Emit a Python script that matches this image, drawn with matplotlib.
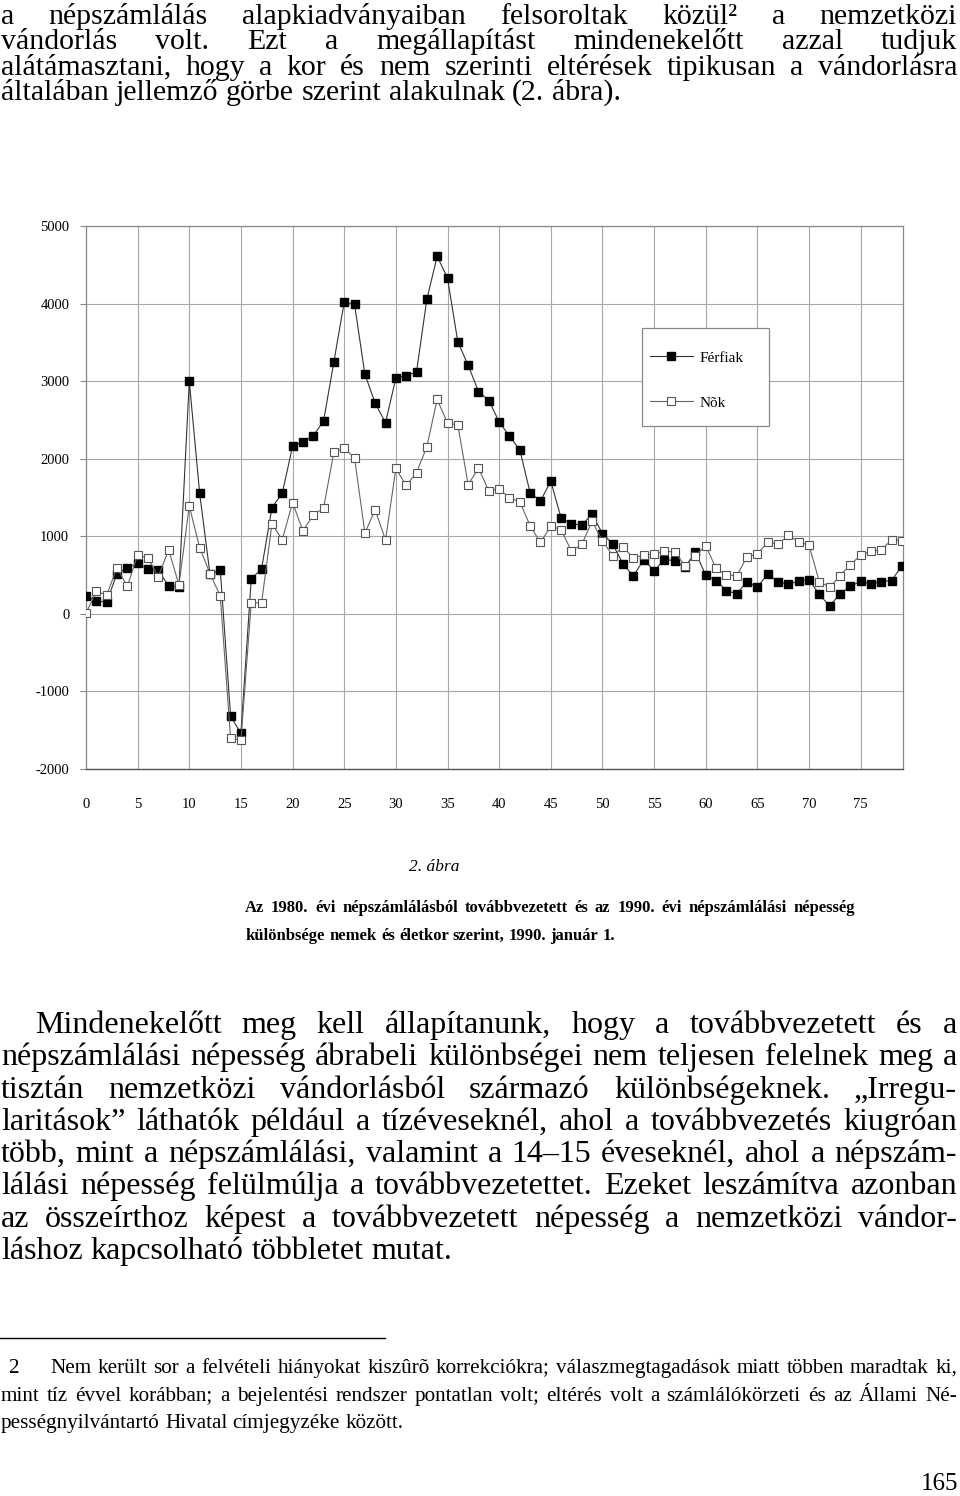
import matplotlib
matplotlib.use("Agg")
import matplotlib.pyplot as plt
from matplotlib.patches import Rectangle
from matplotlib.backends.backend_agg import get_hinting_flag
from matplotlib.font_manager import FontProperties

plt.rcParams['font.family'] = ['Liberation Serif', 'DejaVu Serif']
plt.rcParams['axes.unicode_minus'] = False

W, H = 960, 1496

# --- chart data: difference by age (0..79) ---
ages = list(range(80))
ferfiak = [230, 165, 150, 520, 595, 650, 575, 560, 360, 350,
           3000, 1560, 515, 565, -1320, -1540, 450, 580, 1370, 1555,
           2160, 2220, 2295, 2485, 3250, 4020, 3990, 3090, 2715, 2465,
           3040, 3070, 3120, 4055, 4610, 4330, 3505, 3205, 2865, 2750,
           2475, 2290, 2115, 1560, 1455, 1710, 1235, 1160, 1145, 1285,
           1035, 900, 640, 490, 700, 555, 700, 685, 605, 795,
           500, 430, 300, 260, 415, 345, 515, 410, 385, 420,
           440, 250, 100, 260, 355, 420, 385, 415, 430, 620]
nok = [5, 295, 240, 595, 355, 760, 720, 480, 825, 375,
       1390, 855, 520, 230, -1605, -1630, 145, 140, 1160, 955,
       1435, 1070, 1270, 1365, 2085, 2140, 2010, 1045, 1340, 950,
       1875, 1655, 1820, 2155, 2765, 2460, 2435, 1665, 1880, 1585,
       1610, 1495, 1445, 1135, 920, 1130, 1085, 810, 895, 1195,
       940, 750, 860, 720, 760, 770, 810, 795, 620, 750,
       880, 585, 505, 490, 735, 770, 925, 895, 1015, 930,
       885, 415, 345, 490, 635, 755, 810, 825, 955, 945]
series_labels = ["Férfiak", "Nõk"]
xticks = list(range(0, 80, 5))
yticks = list(range(-2000, 5001, 1000))

# --- page text ---
top_lines = [
    "a népszámlálás alapkiadványaiban felsoroltak közül² a nemzetközi",
    "vándorlás volt. Ezt a megállapítást mindenekelőtt azzal tudjuk",
    "alátámasztani, hogy a kor és nem szerinti eltérések tipikusan a vándorlásra",
    "általában jellemző görbe szerint alakulnak (2. ábra).",
]
fig_no = "2. ábra"
caption_lines = [
    "Az 1980. évi népszámlálásból továbbvezetett és az 1990. évi népszámlálási népesség",
    "különbsége nemek és életkor szerint, 1990. január 1.",
]
body_lines = [
    "Mindenekelőtt meg kell állapítanunk, hogy a továbbvezetett és a",
    "népszámlálási népesség ábrabeli különbségei nem teljesen felelnek meg a",
    "tisztán nemzetközi vándorlásból származó különbségeknek. „Irregu-",
    "laritások” láthatók például a tízéveseknél, ahol a továbbvezetés kiugróan",
    "több, mint a népszámlálási, valamint a 14–15 éveseknél, ahol a népszám-",
    "lálási népesség felülmúlja a továbbvezetettet. Ezeket leszámítva azonban",
    "az összeírthoz képest a továbbvezetett népesség a nemzetközi vándor-",
    "láshoz kapcsolható többletet mutat.",
]
foot_lines = [
    "Nem került sor a felvételi hiányokat kiszûrõ korrekciókra; válaszmegtagadások miatt többen maradtak ki,",
    "mint tíz évvel korábban; a bejelentési rendszer pontatlan volt; eltérés volt a számlálókörzeti és az Állami Né-",
    "pességnyilvántartó Hivatal címjegyzéke között.",
]
page_no = "165"

fig = plt.figure(figsize=(W / 100, H / 100), dpi=100)
fig.patch.set_facecolor("white")

# overlay axes in pixel coordinates for the page text
tax = fig.add_axes([0, 0, 1, 1])
tax.set_xlim(0, W)
tax.set_ylim(H, 0)
tax.axis("off")
renderer = fig.canvas.get_renderer()


def baseline_fix(word, size, y, **kw):
    """Agg snaps each text bitmap on its own; shift so all words share a baseline row."""
    try:
        prop = FontProperties(family=plt.rcParams['font.family'], size=size,
                              weight=kw.get("weight", "normal"), style=kw.get("style", "normal"))
        font = renderer._prepare_font(prop)
        font.set_text(word, 0, flags=get_hinting_flag())
        _, h = font.get_width_height()
        d = font.get_descent()
        a = (h - d) / 64.0
        target = round(y)
        return target + h // 64 - int(a // 1) - d / 64.0
    except Exception:
        return y


def put_line(text, y, x0, x1, size, justify=True, **kw):
    words = text.split(" ")
    arts = [tax.text(0, baseline_fix(w, size, y, **kw), w, fontsize=size,
                     va="baseline", ha="left", **kw) for w in words]
    ws = [a.get_window_extent(renderer).width for a in arts]
    if justify and len(words) > 1:
        gap = (x1 - x0 - sum(ws)) / (len(words) - 1)
    else:
        gap = size * 100 / 72 * 0.25
    x = x0
    for a, w in zip(arts, ws):
        a.set_x(x)
        x += w + gap


TOP = 21.5
BODY = 23
for i, line in enumerate(top_lines):
    put_line(line, 23.5 + i * 25.6, 1, 957, TOP, justify=(i < len(top_lines) - 1))

for i, line in enumerate(body_lines):
    x0 = 35 if i == 0 else 1
    put_line(line, 1033 + i * 32.3, x0, 957, BODY, justify=(i < len(body_lines) - 1))

tax.text(434, 871, fig_no, fontsize=12.5, style="italic", ha="center", va="baseline")
put_line(caption_lines[0], 912, 245, 855, 12, justify=True, weight="bold")
put_line(caption_lines[1], 940, 246, 855, 12, justify=False, weight="bold")

tax.plot([0, 385], [1338, 1338], color="black", lw=1)
FOOT = 15.2
tax.text(8, baseline_fix("2", FOOT, 1373), "2", fontsize=FOOT, va="baseline", ha="left")
put_line(foot_lines[0], 1373, 50, 957, FOOT)
put_line(foot_lines[1], 1401, 1, 957, FOOT)
put_line(foot_lines[2], 1428, 1, 957, FOOT, justify=False)

tax.text(958, 1490, page_no, fontsize=18, ha="right", va="baseline")

# --- chart ---
px_l, px_r, px_t, px_b = 86, 903, 226, 769
ax = fig.add_axes([px_l / W, 1 - px_b / H, (px_r - px_l) / W, (px_b - px_t) / H])
ax.plot(ages, ferfiak, color="#333333", lw=0.8, marker="s", ms=5.5,
        mfc="black", mec="black", label=series_labels[0], zorder=3)
ax.plot(ages, nok, color="#666666", lw=0.8, marker="s", ms=5.5,
        mfc="white", mec="#555555", mew=0.8, label=series_labels[1], zorder=4)

ax.set_xlim(0, 79.1)
ax.set_ylim(-2000, 5000)
ax.set_xticks(xticks)
ax.set_yticks(yticks)
ax.grid(True, color="#a8a8a8", lw=0.8)
ax.set_axisbelow(True)
for side in ["top", "right", "left"]:
    ax.spines[side].set_color("#888888")
    ax.spines[side].set_linewidth(0.9)
ax.spines["bottom"].set_color("#555555")
ax.spines["bottom"].set_linewidth(1.0)
ax.tick_params(axis="x", length=0, pad=21, labelsize=10.5)
ax.tick_params(axis="y", length=4, width=0.8, color="#888888", pad=8, labelsize=10.5)

# legend box drawn by hand so the padding matches
def to_ax(px, py):
    return (px - px_l) / (px_r - px_l), (px_b - py) / (px_b - px_t)

bx0, by0 = to_ax(642, 426)
bx1, by1 = to_ax(769, 328)
ax.add_patch(Rectangle((bx0, by0), bx1 - bx0, by1 - by0, transform=ax.transAxes,
                       facecolor="white", edgecolor="#888888", lw=0.9, zorder=5))
lx, ly = to_ax(650, 351)
leg = ax.legend(loc="upper left", bbox_to_anchor=(lx, ly), frameon=False,
                borderpad=0, borderaxespad=0, labelspacing=2.05,
                handlelength=2.8, handletextpad=0.45, fontsize=11)
leg.set_zorder(6)

fig.savefig("out.png", dpi=100, facecolor="white")
